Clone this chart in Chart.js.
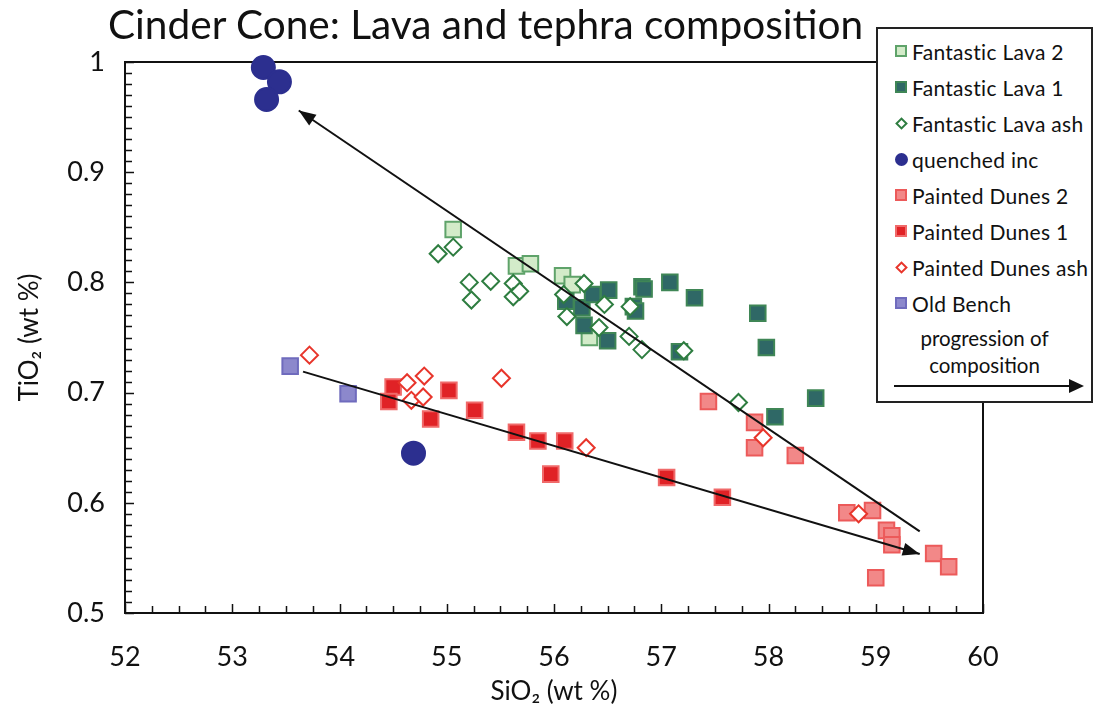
<!DOCTYPE html>
<html>
<head>
<meta charset="utf-8">
<title>Cinder Cone: Lava and tephra composition</title>
<script src="https://cdn.jsdelivr.net/npm/chart.js@4.4.1/dist/chart.umd.min.js"></script>
<style>
  body { margin: 0; background: #fff; font-family: Lato, sans-serif; color: #111; }
  #wrap { position: relative; width: 1095px; height: 717px; overflow: hidden; }
  #chart { position: absolute; left: 0; top: 0; }
  #title { position: absolute; left: 108px; top: -1px; font-size: 40.6px; white-space: nowrap; }
  #legend { position: absolute; left: 876px; top: 27px; width: 213px; height: 372px;
            border: 2px solid #222; background: #fff; }
  .item { position: absolute; left: 17px; height: 26px; display: flex; align-items: center;
          font-size: 21px; letter-spacing: 0.3px; white-space: nowrap; }
  .mk { box-sizing: border-box; width: 12px; height: 12px; margin-right: 5px; border: 2px solid; }
  .mk.dia { width: 9px; height: 9px; margin: 0 6px 0 2px; transform: rotate(45deg); background: #fff; }
  .mk.dot { width: 13px; height: 13px; border-radius: 50%; margin-right: 4px; }
  #prog { position: absolute; left: 0; width: 100%; top: 296px; text-align: center; font-size: 20.5px; line-height: 27px; }
  #progArrow { position: absolute; left: 16px; top: 356px; width: 176px; height: 2px; background: #111; }
  #progArrow::after { content: ""; position: absolute; right: -14px; top: -6px;
          border-left: 15px solid #111; border-top: 7px solid transparent; border-bottom: 7px solid transparent; }
</style>
</head>
<body>
<div id="wrap">
  <canvas id="chart" width="1095" height="717"></canvas>
  <div id="title">Cinder Cone: Lava and tephra composition</div>
  <div id="legend"></div>
</div>
<script>
// SiO2 / TiO2 (wt %) for each sample group
const lava2Si = [55.06, 55.65, 55.78, 56.08, 56.17, 56.33];
const lava2Ti = [0.848, 0.815, 0.817, 0.806, 0.798, 0.750];

const lava1Si = [56.11, 56.26, 56.28, 56.36, 56.50, 56.51, 56.74, 56.76, 56.82, 56.84, 57.08, 57.17, 57.31, 57.90, 57.98, 58.06, 58.44];
const lava1Ti = [0.783, 0.777, 0.761, 0.789, 0.747, 0.793, 0.778, 0.774, 0.796, 0.794, 0.800, 0.737, 0.786, 0.772, 0.741, 0.678, 0.695];

const lavaAshSi = [54.92, 55.06, 55.21, 55.23, 55.41, 55.62, 55.62, 55.68, 56.09, 56.12, 56.28, 56.42, 56.47, 56.70, 56.71, 56.82, 57.21, 57.72];
const lavaAshTi = [0.826, 0.832, 0.800, 0.784, 0.801, 0.799, 0.787, 0.792, 0.789, 0.769, 0.799, 0.759, 0.780, 0.751, 0.778, 0.739, 0.738, 0.691];

const quenchedSi = [53.29, 53.44, 53.32, 54.69];
const quenchedTi = [0.995, 0.982, 0.966, 0.645];

const dunes2Si = [57.44, 57.87, 57.87, 58.25, 58.73, 58.97, 59.10, 59.15, 59.15, 59.54, 59.68, 59.00];
const dunes2Ti = [0.692, 0.673, 0.650, 0.643, 0.591, 0.593, 0.575, 0.570, 0.562, 0.554, 0.542, 0.532];

const dunes1Si = [54.50, 54.46, 55.02, 55.26, 54.85, 55.65, 55.85, 56.10, 55.97, 57.05, 57.57];
const dunes1Ti = [0.705, 0.692, 0.702, 0.684, 0.676, 0.664, 0.656, 0.656, 0.626, 0.623, 0.605];

const dunesAshSi = [53.72, 54.63, 54.79, 54.67, 54.78, 55.51, 56.30, 57.95, 58.84];
const dunesAshTi = [0.734, 0.709, 0.715, 0.693, 0.696, 0.713, 0.650, 0.659, 0.590];

const benchSi = [53.54, 54.08];
const benchTi = [0.724, 0.699];

// trend arrows (tail -> head)
const upperArrowSi = [59.41, 53.62];
const upperArrowTi = [0.574, 0.956];
const lowerArrowSi = [53.66, 59.41];
const lowerArrowTi = [0.719, 0.5535];

const xTicks = [52, 53, 54, 55, 56, 57, 58, 59, 60];
const yTicks = [0.5, 0.6, 0.7, 0.8, 0.9, 1];

function pts(xs, ys) {
    return xs.map((x, i) => ({ x: x, y: ys[i] }));
}

const series = [
    { label: 'Fantastic Lava 2', si: lava2Si, ti: lava2Ti, style: 'rect', r: 11, fill: '#d3ebc9', line: '#5fa36a' },
    { label: 'Fantastic Lava 1', si: lava1Si, ti: lava1Ti, style: 'rect', r: 11, fill: '#2f6866', line: '#3f8656' },
    { label: 'Fantastic Lava ash', si: lavaAshSi, ti: lavaAshTi, style: 'rectRot', r: 8.5, fill: '#ffffff', line: '#2e7d40' },
    { label: 'quenched inc', si: quenchedSi, ti: quenchedTi, style: 'circle', r: 11.5, fill: '#2c2f8f', line: '#2c2f8f' },
    { label: 'Painted Dunes 2', si: dunes2Si, ti: dunes2Ti, style: 'rect', r: 11, fill: '#f28888', line: '#ec5a5a' },
    { label: 'Painted Dunes 1', si: dunes1Si, ti: dunes1Ti, style: 'rect', r: 11, fill: '#e02226', line: '#f06a6a' },
    { label: 'Painted Dunes ash', si: dunesAshSi, ti: dunesAshTi, style: 'rectRot', r: 8.5, fill: '#ffffff', line: '#e8352b' },
    { label: 'Old Bench', si: benchSi, ti: benchTi, style: 'rect', r: 11, fill: '#8c88cc', line: '#6f6bbd' }
];

const datasets = series.map((s, i) => ({
    label: s.label,
    data: pts(s.si, s.ti),
    pointStyle: s.style,
    pointRadius: s.r,
    backgroundColor: s.fill,
    borderColor: s.line,
    borderWidth: 2,
    clip: false,
    order: 20 - i
}));

[[upperArrowSi, upperArrowTi], [lowerArrowSi, lowerArrowTi]].forEach(a => {
    datasets.push({
        label: 'arrow',
        data: pts(a[0], a[1]),
        showLine: true,
        pointRadius: 0,
        borderColor: '#111',
        borderWidth: 2,
        clip: false,
        order: 0,
        arrow: true
    });
});

// html legend
const legend = document.getElementById('legend');
series.forEach((s, i) => {
    const item = document.createElement('div');
    item.className = 'item';
    item.style.top = (9 + i * 36) + 'px';
    const mk = document.createElement('span');
    mk.className = 'mk' + (s.style === 'rectRot' ? ' dia' : s.style === 'circle' ? ' dot' : '');
    mk.style.background = s.fill;
    mk.style.borderColor = s.line;
    item.appendChild(mk);
    item.appendChild(document.createTextNode(s.label));
    legend.appendChild(item);
});
legend.insertAdjacentHTML('beforeend', '<div id="prog">progression of<br>composition</div><div id="progArrow"></div>');

// frame + inward tick marks
const framePlugin = {
    id: 'frame',
    beforeDatasetsDraw(chart) {
        const { ctx, chartArea: a, scales } = chart;
        ctx.save();
        ctx.strokeStyle = '#111';
        ctx.lineWidth = 2;
        ctx.strokeRect(a.left, a.top, a.right - a.left, a.bottom - a.top);
        ctx.lineWidth = 1.5;
        ctx.beginPath();
        for (let i = 0; i <= 32; i++) {
            const x = Math.round(scales.x.getPixelForValue(52 + i * 0.25)) + 0.5;
            const len = i % 4 === 0 ? 9 : 7;
            ctx.moveTo(x, a.bottom);
            ctx.lineTo(x, a.bottom - len);
        }
        for (let i = 0; i <= 50; i++) {
            const y = Math.round(scales.y.getPixelForValue(0.5 + i * 0.01)) + 0.5;
            const len = i % 10 === 0 ? 9 : 7;
            ctx.moveTo(a.left, y);
            ctx.lineTo(a.left + len, y);
        }
        ctx.stroke();
        ctx.restore();
    }
};

// arrow heads at the end of the trend lines
const arrowPlugin = {
    id: 'arrowHeads',
    afterDatasetsDraw(chart) {
        const { ctx } = chart;
        chart.data.datasets.forEach((ds, i) => {
            if (!ds.arrow) return;
            const pts = chart.getDatasetMeta(i).data;
            const p0 = pts[pts.length - 2], p1 = pts[pts.length - 1];
            const ang = Math.atan2(p1.y - p0.y, p1.x - p0.x);
            const len = 17, half = 6.5;
            ctx.save();
            ctx.translate(p1.x, p1.y);
            ctx.rotate(ang);
            ctx.fillStyle = '#111';
            ctx.beginPath();
            ctx.moveTo(0, 0);
            ctx.lineTo(-len, -half);
            ctx.lineTo(-len, half);
            ctx.closePath();
            ctx.fill();
            ctx.restore();
        });
    }
};

Chart.defaults.font.family = 'Lato, sans-serif';
Chart.defaults.color = '#111';

new Chart(document.getElementById('chart'), {
    type: 'scatter',
    data: { datasets: datasets },
    options: {
        responsive: false,
        animation: false,
        events: [],
        layout: { padding: { top: 62, right: 112, left: 0, bottom: 0 } },
        plugins: { legend: { display: false }, tooltip: { enabled: false } },
        scales: {
            x: {
                type: 'linear',
                min: 52,
                max: 60,
                afterBuildTicks: s => { s.ticks = xTicks.map(v => ({ value: v })); },
                afterFit: s => { s.height = 104; },
                grid: { display: false, drawTicks: false },
                border: { display: false },
                ticks: { padding: 28, font: { size: 27 }, callback: v => String(v) },
                title: { display: true, text: 'SiO₂ (wt %)', font: { size: 26 }, padding: { top: 0, bottom: 10 } }
            },
            y: {
                type: 'linear',
                min: 0.5,
                max: 1,
                afterBuildTicks: s => { s.ticks = yTicks.map(v => ({ value: v })); },
                afterFit: s => { s.width = 125; },
                grid: { display: false, drawTicks: false },
                border: { display: false },
                ticks: { padding: 20, font: { size: 27 }, callback: v => v === 1 ? '1' : v.toFixed(1) },
                title: { display: true, text: 'TiO₂ (wt %)', font: { size: 26 }, padding: { top: 14, bottom: 0 } }
            }
        }
    },
    plugins: [framePlugin, arrowPlugin]
});
</script>
</body>
</html>
